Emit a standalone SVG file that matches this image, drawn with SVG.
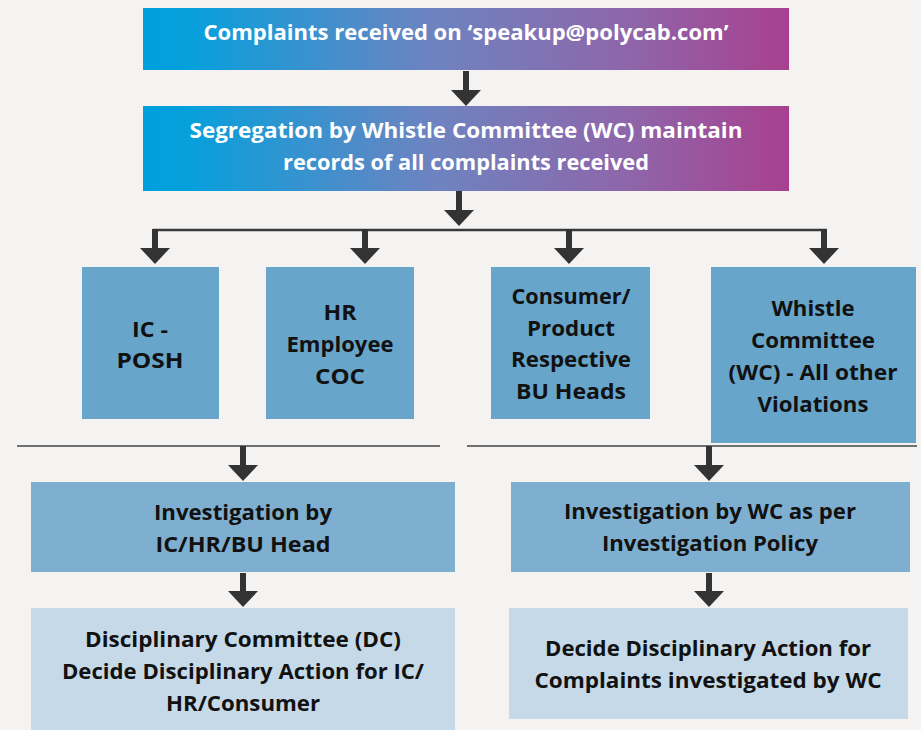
<svg xmlns="http://www.w3.org/2000/svg" width="921" height="730" viewBox="0 0 921 730">
  <style>
    .bg { fill: #F4F3F1; }
    .t { font-family: "Open Sans", "Liberation Sans", Arial, sans-serif; font-weight: 700; font-size: 22px; text-anchor: middle; }
    .w { fill: #FFFFFF; }
    .k { fill: #111111; }
    .mid { fill: #68A5CA; }
    .inv { fill: #7EAFD0; }
    .pale { fill: #C5D9E8; }
    .conn { stroke: #333333; stroke-width: 6; fill: none; }
    .rail { stroke: #3A3A3A; stroke-width: 2.5; fill: none; }
    .sep { stroke: #444444; stroke-width: 1.5; fill: none; }
  </style>
  <defs>
    <linearGradient id="band" x1="0" y1="0" x2="1" y2="0">
      <stop offset="0" stop-color="#00A0DD"/>
      <stop offset="0.07" stop-color="#06A0DC"/>
      <stop offset="0.45" stop-color="#6E83C0"/>
      <stop offset="0.75" stop-color="#8E66AA"/>
      <stop offset="1" stop-color="#A8408F"/>
    </linearGradient>
    <marker id="head" markerUnits="userSpaceOnUse" markerWidth="16" markerHeight="30" viewBox="0 0 16 30" refX="0" refY="15" orient="auto">
      <path d="M0,0 L16,15 L0,30 Z" fill="#333333"/>
    </marker>
  </defs>

  <rect class="bg" x="0" y="0" width="921" height="730"/>

  <!-- connectors -->
  <g id="connectors">
    <line class="conn" x1="466" y1="71" x2="466" y2="90" marker-end="url(#head)"/>
    <line class="conn" x1="459" y1="191" x2="459" y2="210" marker-end="url(#head)"/>
    <line class="rail" x1="153" y1="230" x2="827" y2="230"/>
    <line class="conn" x1="155" y1="229" x2="155" y2="248" marker-end="url(#head)"/>
    <line class="conn" x1="365" y1="229" x2="365" y2="248" marker-end="url(#head)"/>
    <line class="conn" x1="569" y1="229" x2="569" y2="248" marker-end="url(#head)"/>
    <line class="conn" x1="824" y1="229" x2="824" y2="248" marker-end="url(#head)"/>
    <line class="sep" x1="17" y1="446" x2="440" y2="446"/>
    <line class="sep" x1="467" y1="446" x2="917" y2="446"/>
    <line class="conn" x1="243" y1="446" x2="243" y2="465" marker-end="url(#head)"/>
    <line class="conn" x1="709" y1="446" x2="709" y2="465" marker-end="url(#head)"/>
    <line class="conn" x1="243" y1="573" x2="243" y2="591" marker-end="url(#head)"/>
    <line class="conn" x1="709" y1="573" x2="709" y2="591" marker-end="url(#head)"/>
  </g>

  <g id="received">
    <rect x="143" y="8" width="646" height="62" fill="url(#band)"/>
    <text class="t w" x="466" y="40" textLength="525" lengthAdjust="spacingAndGlyphs">Complaints received on ‘speakup@polycab.com’</text>
  </g>

  <g id="segregation">
    <rect x="143" y="106" width="646" height="85" fill="url(#band)"/>
    <text class="t w" x="466" y="138" textLength="553" lengthAdjust="spacingAndGlyphs">Segregation by Whistle Committee (WC) maintain</text>
    <text class="t w" x="466" y="170" textLength="366" lengthAdjust="spacingAndGlyphs">records of all complaints received</text>
  </g>

  <g id="ic-posh">
    <rect class="mid" x="82" y="267" width="137" height="152"/>
    <text class="t k" x="150" y="337" textLength="36" lengthAdjust="spacingAndGlyphs">IC -</text>
    <text class="t k" x="150" y="368" textLength="67" lengthAdjust="spacingAndGlyphs">POSH</text>
  </g>

  <g id="hr-coc">
    <rect class="mid" x="266" y="267" width="148" height="152"/>
    <text class="t k" x="340" y="320" textLength="33" lengthAdjust="spacingAndGlyphs">HR</text>
    <text class="t k" x="340" y="352" textLength="107" lengthAdjust="spacingAndGlyphs">Employee</text>
    <text class="t k" x="340" y="384" textLength="50" lengthAdjust="spacingAndGlyphs">COC</text>
  </g>

  <g id="bu-heads">
    <rect class="mid" x="491" y="267" width="159" height="152"/>
    <text class="t k" x="571" y="304" textLength="119" lengthAdjust="spacingAndGlyphs">Consumer/</text>
    <text class="t k" x="571" y="336" textLength="88" lengthAdjust="spacingAndGlyphs">Product</text>
    <text class="t k" x="571" y="367" textLength="120" lengthAdjust="spacingAndGlyphs">Respective</text>
    <text class="t k" x="571" y="399" textLength="110" lengthAdjust="spacingAndGlyphs">BU Heads</text>
  </g>

  <g id="whistle-committee">
    <rect class="mid" x="711" y="267" width="205" height="176"/>
    <text class="t k" x="813" y="316" textLength="83" lengthAdjust="spacingAndGlyphs">Whistle</text>
    <text class="t k" x="813" y="348" textLength="124" lengthAdjust="spacingAndGlyphs">Committee</text>
    <text class="t k" x="813" y="380" textLength="169" lengthAdjust="spacingAndGlyphs">(WC) - All other</text>
    <text class="t k" x="813" y="412" textLength="111" lengthAdjust="spacingAndGlyphs">Violations</text>
  </g>

  <g id="investigation-bu">
    <rect class="inv" x="31" y="482" width="424" height="90"/>
    <text class="t k" x="243" y="520" textLength="178" lengthAdjust="spacingAndGlyphs">Investigation by</text>
    <text class="t k" x="243" y="552" textLength="175" lengthAdjust="spacingAndGlyphs">IC/HR/BU Head</text>
  </g>

  <g id="investigation-wc">
    <rect class="inv" x="511" y="482" width="399" height="90"/>
    <text class="t k" x="710" y="519" textLength="292" lengthAdjust="spacingAndGlyphs">Investigation by WC as per</text>
    <text class="t k" x="710" y="551" textLength="216" lengthAdjust="spacingAndGlyphs">Investigation Policy</text>
  </g>

  <g id="action-dc">
    <rect class="pale" x="31" y="608" width="424" height="122"/>
    <text class="t k" x="243" y="647" textLength="316" lengthAdjust="spacingAndGlyphs">Disciplinary Committee (DC)</text>
    <text class="t k" x="243" y="679" textLength="362" lengthAdjust="spacingAndGlyphs">Decide Disciplinary Action for IC/</text>
    <text class="t k" x="243" y="711" textLength="154" lengthAdjust="spacingAndGlyphs">HR/Consumer</text>
  </g>

  <g id="action-wc">
    <rect class="pale" x="509" y="608" width="399" height="111"/>
    <text class="t k" x="708" y="656" textLength="326" lengthAdjust="spacingAndGlyphs">Decide Disciplinary Action for</text>
    <text class="t k" x="708" y="688" textLength="347" lengthAdjust="spacingAndGlyphs">Complaints investigated by WC</text>
  </g>
</svg>
